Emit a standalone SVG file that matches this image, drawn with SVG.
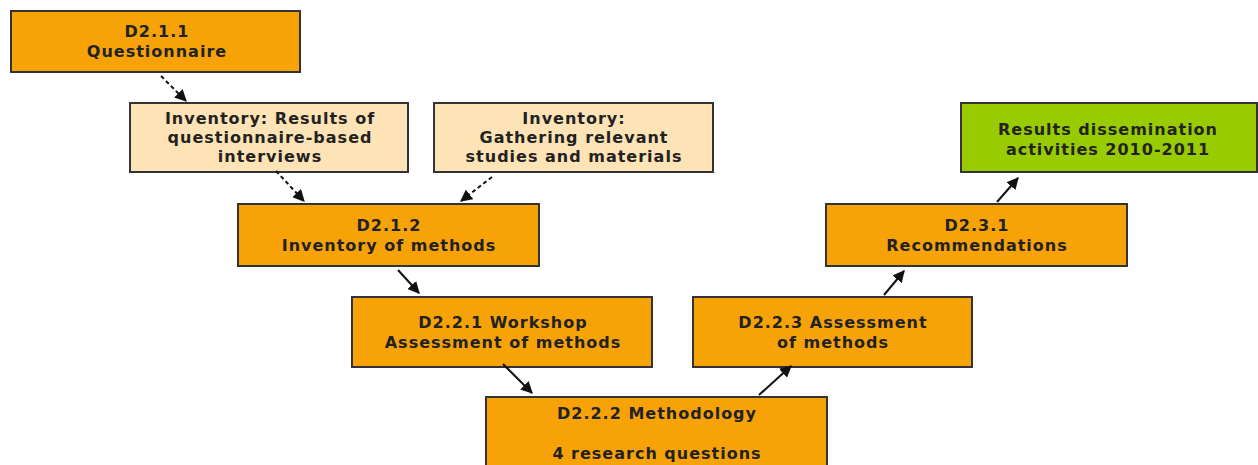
<svg xmlns="http://www.w3.org/2000/svg" width="1258" height="465" viewBox="0 0 1258 465">
<defs>
<style>
.box{stroke:#333;stroke-width:2}
.or{fill:#F7A308}
.lt{fill:#FDE3B5}
.gr{fill:#99CC00}
text{font-family:"DejaVu Sans",Verdana,sans-serif;font-weight:bold;font-size:16px;letter-spacing:1px;fill:#222;text-anchor:middle}
.c{stroke:#111;stroke-width:2;fill:none}
.d{stroke-dasharray:4 3}
</style>
<marker id="ah" viewBox="0 0 10 10" refX="9" refY="5" markerWidth="6" markerHeight="6" orient="auto" markerUnits="strokeWidth">
<path d="M0,0 L10,5 L0,10 z" fill="#111"/>
</marker>
</defs>
<rect width="1258" height="465" fill="#fff"/>
<g id="n-d211"><rect class="box or" x="11" y="11" width="289" height="61"/><text x="157" y="37">D2.1.1</text><text x="157" y="57">Questionnaire</text></g>
<g id="n-inv1"><rect class="box lt" x="130" y="103" width="278" height="69"/><text x="270" y="124">Inventory: Results of</text><text x="270" y="143">questionnaire-based</text><text x="270" y="162">interviews</text></g>
<g id="n-inv2"><rect class="box lt" x="434" y="103" width="279" height="69"/><text x="574" y="124">Inventory:</text><text x="574" y="143">Gathering relevant</text><text x="574" y="162">studies and materials</text></g>
<g id="n-res"><rect class="box gr" x="961" y="103" width="296" height="69"/><text x="1108" y="135">Results dissemination</text><text x="1108" y="155">activities 2010-2011</text></g>
<g id="n-d212"><rect class="box or" x="238" y="204" width="301" height="62"/><text x="389" y="231">D2.1.2</text><text x="389" y="251">Inventory of methods</text></g>
<g id="n-d231"><rect class="box or" x="826" y="204" width="301" height="62"/><text x="977" y="231">D2.3.1</text><text x="977" y="251">Recommendations</text></g>
<g id="n-d221"><rect class="box or" x="352" y="297" width="300" height="70"/><text x="503" y="328">D2.2.1 Workshop</text><text x="503" y="348">Assessment of methods</text></g>
<g id="n-d223"><rect class="box or" x="693" y="297" width="279" height="70"/><text x="833" y="328">D2.2.3 Assessment</text><text x="833" y="348">of methods</text></g>
<g id="n-d222"><rect class="box or" x="486" y="397" width="341" height="80"/><text x="657" y="419">D2.2.2 Methodology</text><text x="657" y="459">4 research questions</text></g>
<g id="connectors">
<line class="c d" x1="161" y1="76" x2="186" y2="101" marker-end="url(#ah)"/>
<line class="c d" x1="276" y1="171" x2="304" y2="201" marker-end="url(#ah)"/>
<line class="c d" x1="492" y1="177" x2="461" y2="201" marker-end="url(#ah)"/>
<line class="c" x1="398" y1="270" x2="419" y2="293" marker-end="url(#ah)"/>
<line class="c" x1="503" y1="364" x2="532" y2="393" marker-end="url(#ah)"/>
<line class="c" x1="759" y1="395" x2="791" y2="366" marker-end="url(#ah)"/>
<line class="c" x1="884" y1="295" x2="904" y2="271" marker-end="url(#ah)"/>
<line class="c" x1="997" y1="202" x2="1018" y2="178" marker-end="url(#ah)"/>
</g>
</svg>
